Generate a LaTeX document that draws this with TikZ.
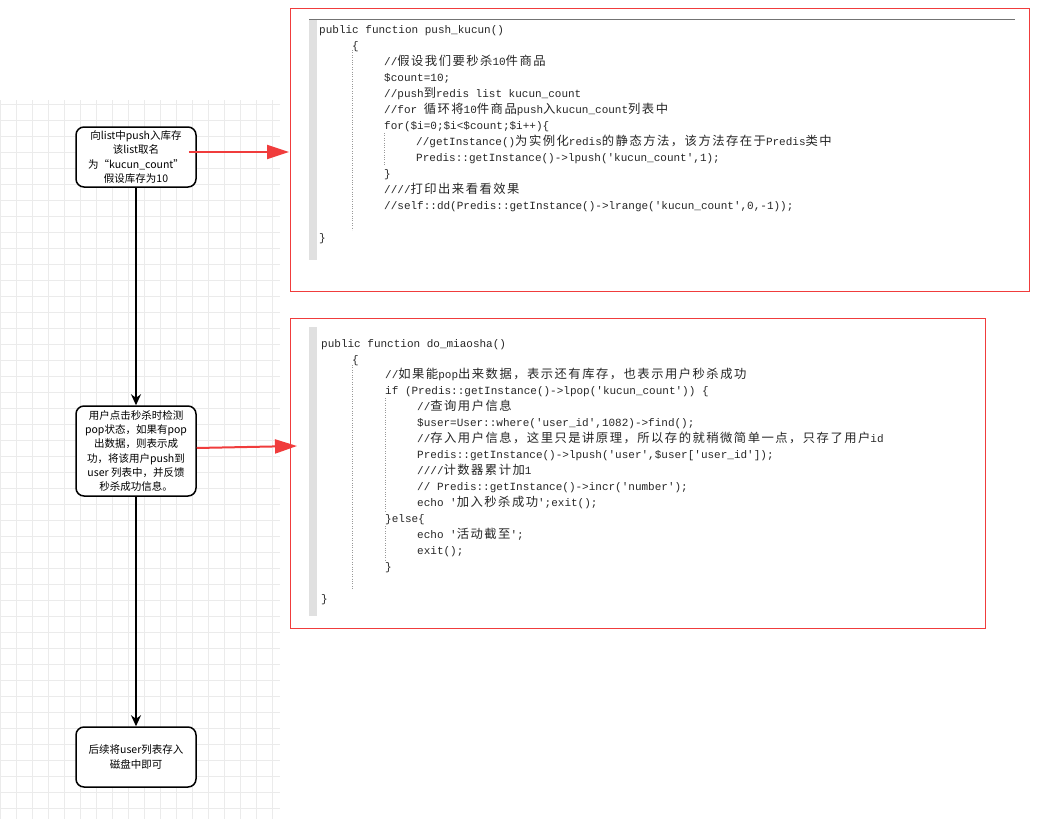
\documentclass[tikz,border=0pt]{standalone}
\usepackage{fontspec}
\newfontfamily\cmono{Liberation Mono}
\newfontfamily\cjk[Scale=1.12,LetterSpace=12]{Noto Sans CJK SC}
\newfontfamily\boxfont{Noto Sans CJK SC}
\usetikzlibrary{arrows.meta}
\newcommand{\zh}[1]{{\cjk #1}}
\definecolor{redc}{RGB}{240,60,60}
\tikzset{
 code/.style={anchor=base west,inner sep=0pt,font=\cmono\fontsize{11}{13}\selectfont,text=black!85},
 box/.style={draw,line width=1.5pt,rounded corners=8pt,minimum width=120pt,inner sep=1pt,align=center,font=\boxfont\fontsize{10.5}{14.2}\selectfont,fill=white},
 flow/.style={line width=1.6pt,-{Stealth[length=11pt,width=10pt]}},
 redarr/.style={draw=redc,line width=2pt,-{Triangle[length=22pt,width=14pt]}},
 panel/.style={draw=redc,line width=0.6pt},
}
\begin{document}
\begin{tikzpicture}[x=1pt,y=-1pt]
\useasboundingbox (0,0) rectangle (1053,819);
\fill[white] (0,0) rectangle (1053,819);
% grid
\foreach \gx in {0,16,...,272} \draw[black!8,line width=0.5pt] (\gx,100) -- (\gx,819);
\foreach \gy in {104,120,...,816} \draw[black!8,line width=0.5pt] (0,\gy) -- (280,\gy);
% panels
\draw[panel] (290,8) rectangle (1029,291);
\draw[panel] (290,318) rectangle (985,628);
\fill[black!12] (309,19) rectangle (317,260);
\draw[black!55,line width=1pt] (309,19) -- (1015,19);
\fill[black!12] (309,327) rectangle (317,616);
\draw[black!40,dotted] (352,50) -- (352,230);
\draw[black!40,dotted] (384,133) -- (384,165);
\draw[black!40,dotted] (352,365) -- (352,590);
\draw[black!40,dotted] (385,398) -- (385,512);
\draw[black!40,dotted] (385,526) -- (385,560);
% code 1
\node[code] (a1) at (319,33) {public function push\_kucun()};
\node[code] (a2) at (352,49) {\{};
\node[code] (a3) at (384,65) {//\zh{假设我们要秒杀}10\zh{件商品}};
\node[code] (a4) at (384,81) {\$count=10;};
\node[code] (a5) at (384,97) {//push\zh{到}redis list kucun\_count};
\node[code] (a6) at (384,113) {//for \zh{循环将}10\zh{件商品}push\zh{入}kucun\_count\zh{列表中}};
\node[code] (a7) at (384,129) {for(\$i=0;\$i<\$count;\$i++)\{};
\node[code] (a8) at (416,145) {//getInstance()\zh{为实例化}redis\zh{的静态方法，该方法存在于}Predis\zh{类中}};
\node[code] (a9) at (416,161) {Predis::getInstance()->lpush('kucun\_count',1);};
\node[code] (a10) at (384,177) {\}};
\node[code] (a11) at (384,193) {////\zh{打印出来看看效果}};
\node[code] (a12) at (384,209) {//self::dd(Predis::getInstance()->lrange('kucun\_count',0,-1));};
\node[code] (a13) at (319,241) {\}};
% code 2
\node[code] (b1) at (321,347) {public function do\_miaosha()};
\node[code] (b2) at (352,363) {\{};
\node[code] (b3) at (385,378) {//\zh{如果能}pop\zh{出来数据，表示还有库存，也表示用户秒杀成功}};
\node[code] (b4) at (385,394) {if (Predis::getInstance()->lpop('kucun\_count')) \{};
\node[code] (b5) at (417,410) {//\zh{查询用户信息}};
\node[code] (b6) at (417,426) {\$user=User::where('user\_id',1082)->find();};
\node[code] (b7) at (417,442) {//\zh{存入用户信息，这里只是讲原理，所以存的就稍微简单一点，只存了用户}id};
\node[code] (b8) at (417,458) {Predis::getInstance()->lpush('user',\$user['user\_id']);};
\node[code] (b9) at (417,474) {////\zh{计数器累计加}1};
\node[code] (b10) at (417,490) {// Predis::getInstance()->incr('number');};
\node[code] (b11) at (417,506) {echo '\zh{加入秒杀成功}';exit();};
\node[code] (b12) at (385,522) {\}else\{};
\node[code] (b13) at (417,538) {echo '\zh{活动截至}';};
\node[code] (b14) at (417,554) {exit();};
\node[code] (b15) at (385,570) {\}};
\node[code] (b16) at (321,602) {\}};
% flow boxes
\node[box,minimum height=60pt] (n1) at (136,157) {向list中push入库存\\该list取名\\为“kucun\_count”\\假设库存为10};
\node[box,minimum height=90pt] (n2) at (136,451) {用户点击秒杀时检测\\pop状态，如果有pop\\出数据，则表示成\\功，将该用户push到\\user 列表中，并反馈\\秒杀成功信息。};
\node[box,minimum height=60pt] (n3) at (136,757) {后续将user列表存入\\磁盘中即可};
\draw[flow] (n1) -- (n2);
\draw[flow] (n2) -- (n3);
\coordinate (p1) at (289,152);
\coordinate (p2) at (297,446);
\draw[redarr] ([xshift=-8pt,yshift=5pt]n1.east) -- (p1);
\draw[redarr] ([yshift=3pt]n2.east) -- (p2);
\end{tikzpicture}
\end{document}
